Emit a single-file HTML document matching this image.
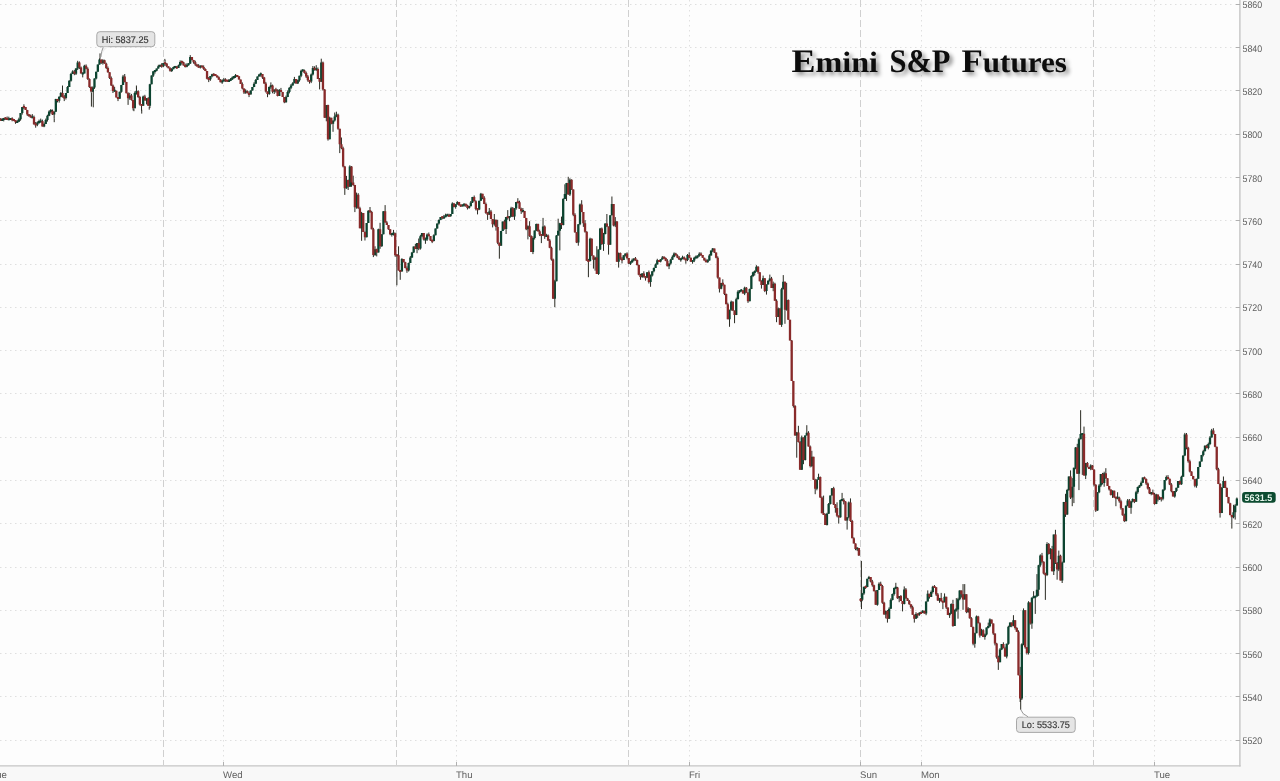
<!DOCTYPE html><html><head><meta charset="utf-8"><title>Emini S&amp;P Futures</title><style>html,body{margin:0;padding:0;background:#f8f8f8;overflow:hidden}svg{display:block}text{text-rendering:geometricPrecision}</style></head><body><svg width="1280" height="781" viewBox="0 0 1280 781" style="will-change:transform"><rect x="0" y="0" width="1280" height="781" fill="#f8f8f8"/><rect x="0" y="0" width="1239.5" height="765.5" fill="#fdfdfd"/><g stroke="#dfdfdf" stroke-width="1" stroke-dasharray="1.5 3.5" fill="none"><path d="M0 740.5H1239"/><path d="M0 696.5H1239"/><path d="M0 653.5H1239"/><path d="M0 610.5H1239"/><path d="M0 567.5H1239"/><path d="M0 523.5H1239"/><path d="M0 480.5H1239"/><path d="M0 437.5H1239"/><path d="M0 393.5H1239"/><path d="M0 350.5H1239"/><path d="M0 307.5H1239"/><path d="M0 264.5H1239"/><path d="M0 220.5H1239"/><path d="M0 177.5H1239"/><path d="M0 134.5H1239"/><path d="M0 90.5H1239"/><path d="M0 47.5H1239"/><path d="M0 4.5H1239"/></g><g stroke="#e0e0e0" stroke-width="1" stroke-dasharray="1.5 3.5" fill="none"><path d="M223.5 0V765"/><path d="M456.5 0V765"/><path d="M689.5 0V765"/><path d="M921.5 0V765"/><path d="M1154.5 0V765"/></g><g stroke="#d0d0d0" stroke-width="1" stroke-dasharray="7 3" fill="none"><path d="M163.5 0V765"/><path d="M396.5 0V765"/><path d="M628.5 0V765"/><path d="M860.5 0V765"/><path d="M1093.5 0V765"/></g><path d="M1239.9 0V766.6" stroke="#c6c6c6" stroke-width="1.4" fill="none"/><path d="M0 765.9H1240.6" stroke="#c6c6c6" stroke-width="1.4" fill="none"/><g stroke="#b0b0b0" fill="none"><path d="M1236 740.5H1240"/><path d="M1236 696.5H1240"/><path d="M1236 653.5H1240"/><path d="M1236 610.5H1240"/><path d="M1236 567.5H1240"/><path d="M1236 523.5H1240"/><path d="M1236 480.5H1240"/><path d="M1236 437.5H1240"/><path d="M1236 393.5H1240"/><path d="M1236 350.5H1240"/><path d="M1236 307.5H1240"/><path d="M1236 264.5H1240"/><path d="M1236 220.5H1240"/><path d="M1236 177.5H1240"/><path d="M1236 134.5H1240"/><path d="M1236 90.5H1240"/><path d="M1236 47.5H1240"/><path d="M1236 4.5H1240"/><path d="M223.5 762V766"/><path d="M456.5 762V766"/><path d="M689.5 762V766"/><path d="M860.5 762V766"/><path d="M921.5 762V766"/><path d="M1154.5 762V766"/></g><g font-family="Liberation Sans, sans-serif" font-size="9.6" fill="#606060"><text x="1242.5" y="744.2" textLength="19.7" lengthAdjust="spacingAndGlyphs">5520</text><text x="1242.5" y="701.2" textLength="19.7" lengthAdjust="spacingAndGlyphs">5540</text><text x="1242.5" y="658.2" textLength="19.7" lengthAdjust="spacingAndGlyphs">5560</text><text x="1242.5" y="614.2" textLength="19.7" lengthAdjust="spacingAndGlyphs">5580</text><text x="1242.5" y="571.2" textLength="19.7" lengthAdjust="spacingAndGlyphs">5600</text><text x="1242.5" y="528.2" textLength="19.7" lengthAdjust="spacingAndGlyphs">5620</text><text x="1242.5" y="484.2" textLength="19.7" lengthAdjust="spacingAndGlyphs">5640</text><text x="1242.5" y="441.2" textLength="19.7" lengthAdjust="spacingAndGlyphs">5660</text><text x="1242.5" y="398.2" textLength="19.7" lengthAdjust="spacingAndGlyphs">5680</text><text x="1242.5" y="355.2" textLength="19.7" lengthAdjust="spacingAndGlyphs">5700</text><text x="1242.5" y="311.2" textLength="19.7" lengthAdjust="spacingAndGlyphs">5720</text><text x="1242.5" y="268.2" textLength="19.7" lengthAdjust="spacingAndGlyphs">5740</text><text x="1242.5" y="225.2" textLength="19.7" lengthAdjust="spacingAndGlyphs">5760</text><text x="1242.5" y="182.2" textLength="19.7" lengthAdjust="spacingAndGlyphs">5780</text><text x="1242.5" y="138.2" textLength="19.7" lengthAdjust="spacingAndGlyphs">5800</text><text x="1242.5" y="95.2" textLength="19.7" lengthAdjust="spacingAndGlyphs">5820</text><text x="1242.5" y="52.2" textLength="19.7" lengthAdjust="spacingAndGlyphs">5840</text><text x="1242.5" y="8.2" textLength="19.7" lengthAdjust="spacingAndGlyphs">5860</text></g><g font-family="Liberation Sans, sans-serif" font-size="9.6" fill="#606060"><text x="-9.3" y="777.6">Tue</text><text x="223" y="777.6">Wed</text><text x="456" y="777.6">Thu</text><text x="689" y="777.6">Fri</text><text x="860" y="777.6">Sun</text><text x="921" y="777.6">Mon</text><text x="1154" y="777.6">Tue</text></g><g fill="none"><path stroke="#2a2a22" stroke-width="1" d="M0.40 118.2V120.7M2.08 118.0V121.0M3.76 117.9V121.4M5.44 117.3V119.8M7.12 116.5V120.0M8.80 116.7V120.2M10.48 118.0V120.0M12.16 117.3V121.3M13.84 119.1V121.1M15.52 120.3V123.8M17.20 120.0V123.0M18.88 117.7V121.8M20.56 113.1V120.7M22.24 107.1V114.6M23.92 104.3V109.1M25.60 107.1V109.9M27.28 109.9V115.9M28.96 114.2V116.7M30.64 114.6V117.6M32.32 114.1V118.2M34.00 115.6V124.8M35.68 122.0V127.7M37.36 121.4V126.2M39.04 119.6V123.8M40.72 118.6V122.4M42.40 119.6V126.5M44.08 122.5V127.2M45.76 118.6V124.0M47.44 114.7V121.6M49.12 110.4V116.2M50.80 109.0V113.5M52.48 109.5V115.0M54.16 111.3V118.3M55.84 98.8V111.8M57.52 98.9V102.4M59.20 96.3V102.6M60.88 91.9V97.3M62.56 90.7V97.6M64.24 95.1V101.1M65.92 93.0V99.5M67.60 86.0V93.0M69.28 80.2V87.0M70.96 72.9V81.7M72.64 70.3V73.9M74.32 69.9V75.2M76.00 68.0V75.0M77.68 60.8V70.0M79.36 61.4V69.0M81.04 66.5V73.5M82.72 72.4V77.4M84.40 64.8V73.4M86.08 64.4V69.3M87.76 67.3V79.9M89.44 78.4V87.9M91.12 86.4V92.5M92.80 86.4V92.1M94.48 78.4V88.9M96.16 71.7V79.4M97.84 64.6V71.7M99.52 58.4V64.6M101.20 59.6V64.0M102.88 59.2V64.6M104.56 59.7V63.7M106.24 62.7V69.0M107.92 66.5V72.7M109.60 72.2V79.0M111.28 76.5V86.0M112.96 84.5V93.0M114.64 86.8V91.8M116.32 90.7V97.4M118.00 97.0V101.1M119.68 91.7V98.7M121.36 84.9V92.7M123.04 74.9V84.9M124.72 74.0V82.4M126.40 81.9V93.3M128.08 92.3V104.9M129.76 92.8V99.8M131.44 93.9V100.6M133.12 100.1V110.4M134.80 91.4V108.3M136.48 87.6V94.6M138.16 90.3V97.9M139.84 95.9V105.5M141.52 104.1V110.7M143.20 95.6V105.7M144.88 94.8V100.5M146.56 98.2V104.4M148.24 97.2V105.7M149.92 83.8V108.1M151.60 75.4V84.3M153.28 71.3V76.9M154.96 70.1V73.6M156.64 68.6V71.3M158.32 64.8V68.6M160.00 64.8V66.8M161.68 63.2V67.7M163.36 63.0V67.2M165.04 60.0V65.8M166.72 63.1V67.3M168.40 66.3V68.3M170.08 67.2V71.7M171.76 68.0V72.0M173.44 66.5V69.2M175.12 65.9V68.0M176.80 65.9V68.9M178.48 64.6V67.9M180.16 60.4V65.6M181.84 60.5V64.5M183.52 61.7V65.5M185.20 63.6V67.5M186.88 63.3V67.3M188.56 63.2V65.7M190.24 55.1V64.0M191.92 57.1V60.4M193.60 59.9V63.7M195.28 60.7V65.9M196.96 63.9V66.5M198.64 64.2V67.7M200.32 65.5V68.5M202.00 65.4V67.4M203.68 65.4V69.9M205.36 68.4V71.1M207.04 71.1V79.3M208.72 77.0V82.1M210.40 76.0V80.8M212.08 73.8V77.3M213.76 73.2V76.2M215.44 74.1V76.1M217.12 75.4V77.4M218.80 76.3V79.7M220.48 79.2V82.3M222.16 79.4V83.9M223.84 77.9V81.4M225.52 78.3V81.8M227.20 79.8V81.8M228.88 79.0V82.0M230.56 78.1V81.1M232.24 76.5V80.0M233.92 76.0V79.0M235.60 74.0V78.0M237.28 75.0V77.0M238.96 76.2V79.6M240.64 79.6V83.9M242.32 82.4V89.4M244.00 88.4V94.0M245.68 89.3V93.8M247.36 90.4V93.3M249.04 91.4V97.1M250.72 90.5V94.4M252.40 87.1V90.5M254.08 82.2V87.1M255.76 79.0V83.7M257.44 76.5V80.0M259.12 73.9V76.5M260.80 72.5V76.7M262.48 74.1V78.9M264.16 76.9V83.9M265.84 81.9V92.5M267.52 91.5V97.2M269.20 86.4V94.9M270.88 82.4V88.8M272.56 84.6V93.3M274.24 89.5V94.0M275.92 87.8V92.7M277.60 89.3V96.4M279.28 89.0V95.9M280.96 87.9V91.9M282.64 91.9V97.0M284.32 97.0V103.2M286.00 95.6V102.7M287.68 90.4V97.1M289.36 87.2V93.4M291.04 84.0V89.2M292.72 82.2V85.5M294.40 76.9V83.2M296.08 79.1V83.6M297.76 79.7V83.9M299.44 75.7V81.7M301.12 69.7V77.2M302.80 69.1V71.6M304.48 69.6V73.6M306.16 71.6V78.0M307.84 75.0V81.7M309.52 79.9V83.6M311.20 73.5V83.1M312.88 66.0V75.5M314.56 66.3V70.6M316.24 65.2V70.8M317.92 67.5V79.0M319.60 78.0V89.4M321.28 58.7V81.8M322.96 61.6V90.6M324.64 89.1V117.8M326.32 105.0V121.3M328.00 104.7V140.6M329.68 116.7V139.3M331.36 117.8V124.3M333.04 120.6V131.8M334.72 112.5V121.6M336.40 111.7V117.2M338.08 113.7V129.8M339.76 128.8V153.1M341.44 137.5V149.2M343.12 146.7V167.4M344.80 165.9V194.9M346.48 175.9V188.8M348.16 179.6V190.0M349.84 165.3V186.8M351.52 166.1V186.8M353.20 175.7V185.9M354.88 184.9V212.1M356.56 192.6V208.7M358.24 193.2V208.8M359.92 206.8V228.3M361.60 211.9V240.8M363.28 213.0V231.9M364.96 231.4V240.5M366.64 223.0V237.3M368.32 210.2V223.0M370.00 207.0V212.8M371.68 210.9V229.3M373.36 227.8V257.1M375.04 246.3V255.9M376.72 248.7V256.4M378.40 228.7V252.5M380.08 222.8V248.8M381.76 234.3V246.8M383.44 211.2V234.3M385.12 205.1V222.6M386.80 221.1V225.0M388.48 225.0V229.8M390.16 229.3V235.2M391.84 233.0V236.6M393.52 229.9V235.5M395.20 232.7V256.8M396.88 254.3V285.3M398.56 246.3V270.5M400.24 269.9V279.8M401.92 258.2V271.4M403.60 259.0V262.3M405.28 261.8V268.4M406.96 266.4V272.8M408.64 262.6V271.5M410.32 256.0V263.1M412.00 251.9V258.0M413.68 246.5V252.9M415.36 243.9V249.1M417.04 243.0V253.2M418.72 238.5V250.2M420.40 234.8V249.6M422.08 233.1V237.3M423.76 233.0V240.5M425.44 237.5V243.8M427.12 233.4V240.9M428.80 232.5V236.2M430.48 236.0V240.9M432.16 239.7V243.1M433.84 234.3V241.4M435.52 228.6V235.3M437.20 223.6V228.6M438.88 219.4V224.6M440.56 217.1V219.9M442.24 216.3V219.3M443.92 214.9V218.9M445.60 213.7V217.3M447.28 213.7V216.2M448.96 213.7V216.7M450.64 214.0V216.7M452.32 202.3V214.0M454.00 202.9V207.4M455.68 204.0V208.7M457.36 201.2V204.5M459.04 201.9V205.7M460.72 204.5V207.0M462.40 204.4V206.4M464.08 203.2V206.7M465.76 203.8V206.8M467.44 204.7V209.5M469.12 206.1V208.8M470.80 201.0V206.3M472.48 196.9V203.0M474.16 195.5V201.2M475.84 200.2V210.4M477.52 208.3V214.4M479.20 200.8V210.1M480.88 192.9V200.8M482.56 193.8V199.2M484.24 196.2V204.1M485.92 202.6V213.9M487.60 212.2V219.9M489.28 208.0V215.0M490.96 209.9V219.1M492.64 219.1V227.4M494.32 214.0V225.7M496.00 219.7V230.6M497.68 219.8V244.2M499.36 242.7V258.7M501.04 230.9V245.7M502.72 221.6V230.9M504.40 219.7V229.6M506.08 217.0V234.0M507.76 210.1V219.7M509.44 216.1V221.2M511.12 206.8V216.7M512.80 207.0V217.1M514.48 208.2V219.9M516.16 202.1V209.7M517.84 198.2V203.2M519.52 200.7V208.7M521.20 207.7V213.9M522.88 208.0V212.5M524.56 210.9V217.9M526.24 217.9V230.2M527.92 225.3V239.4M529.60 221.2V236.9M531.28 235.4V252.0M532.96 236.5V254.1M534.64 230.6V239.5M536.32 223.6V231.1M538.00 223.6V231.7M539.68 229.7V236.1M541.36 234.1V243.1M543.04 217.9V235.7M544.72 225.4V238.9M546.40 233.8V236.9M548.08 234.4V241.0M549.76 239.0V248.2M551.44 246.7V260.6M553.12 258.6V298.7M554.80 279.8V307.2M556.48 235.1V281.3M558.16 218.7V235.6M559.84 222.8V250.4M561.52 216.6V229.0M563.20 198.1V225.4M564.88 184.3V199.1M566.56 182.9V200.9M568.24 176.8V194.7M569.92 178.3V196.0M571.60 179.3V189.9M573.28 189.4V216.2M574.96 213.2V232.8M576.64 232.3V243.1M578.32 224.2V245.7M580.00 203.5V225.2M581.68 200.2V212.1M583.36 212.1V226.9M585.04 220.2V232.7M586.72 231.2V260.7M588.40 258.9V277.2M590.08 237.7V261.5M591.76 238.4V256.1M593.44 255.6V268.6M595.12 256.7V270.7M596.80 246.2V274.0M598.48 249.5V274.9M600.16 227.9V250.0M601.84 227.5V245.0M603.52 232.9V250.9M605.20 223.4V234.4M606.88 214.0V227.1M608.56 226.6V254.6M610.24 215.3V244.7M611.92 196.5V215.3M613.60 204.0V226.4M615.28 217.1V227.1M616.96 221.0V261.7M618.64 252.5V267.6M620.32 252.5V259.9M622.00 256.9V263.4M623.68 255.3V259.9M625.36 253.5V256.5M627.04 252.3V259.4M628.72 257.9V264.0M630.40 261.1V265.0M632.08 258.7V262.6M633.76 258.4V261.4M635.44 257.0V260.8M637.12 259.6V265.5M638.80 264.5V275.3M640.48 273.8V279.8M642.16 273.1V277.9M643.84 271.3V277.7M645.52 276.2V280.6M647.20 272.2V277.7M648.88 270.5V283.5M650.56 274.5V286.8M652.24 271.3V276.5M653.92 267.5V272.3M655.60 263.5V268.0M657.28 258.8V264.5M658.96 260.0V262.0M660.64 259.3V262.4M662.32 256.0V259.5M664.00 256.3V258.8M665.68 257.4V261.2M667.36 259.2V266.3M669.04 263.6V269.1M670.72 258.8V264.6M672.40 255.3V259.8M674.08 252.4V257.3M675.76 252.8V255.4M677.44 254.4V258.2M679.12 256.0V260.0M680.80 258.2V261.7M682.48 255.7V259.2M684.16 256.4V259.7M685.84 258.5V263.7M687.52 254.0V261.1M689.20 252.3V258.2M690.88 257.7V261.7M692.56 260.1V263.7M694.24 256.8V262.1M695.92 255.5V258.5M697.60 255.4V258.4M699.28 252.3V256.8M700.96 252.3V255.5M702.64 255.0V257.8M704.32 257.8V260.6M706.00 258.8V262.3M707.68 259.3V262.7M709.36 254.1V260.6M711.04 250.6V255.6M712.72 248.0V252.1M714.40 248.6V253.0M716.08 252.5V258.3M717.76 256.3V278.6M719.44 277.6V292.5M721.12 282.9V289.3M722.80 279.3V286.3M724.48 284.7V295.1M726.16 293.6V304.2M727.84 302.7V319.2M729.52 309.8V326.8M731.20 300.6V310.8M732.88 301.3V311.1M734.56 310.6V323.2M736.24 297.7V315.1M737.92 290.3V299.2M739.60 290.3V293.3M741.28 289.0V291.5M742.96 290.2V293.5M744.64 286.7V295.1M746.32 287.0V292.9M748.00 292.4V302.9M749.68 288.6V301.2M751.36 275.1V289.1M753.04 271.7V277.1M754.72 270.4V275.5M756.40 265.2V271.5M758.08 266.2V273.8M759.76 272.3V281.3M761.44 280.3V288.6M763.12 275.6V284.9M764.80 278.2V292.1M766.48 284.4V294.6M768.16 280.2V284.4M769.84 274.6V281.7M771.52 276.9V287.9M773.20 281.6V291.2M774.88 282.7V300.8M776.56 299.3V322.2M778.24 307.5V316.9M779.92 308.1V324.7M781.60 287.8V326.9M783.28 275.1V289.3M784.96 281.7V323.8M786.64 282.9V310.7M788.32 299.5V319.8M790.00 319.8V340.5M791.68 340.0V380.9M793.36 380.9V407.6M795.04 405.1V435.6M796.72 431.9V457.7M798.40 425.8V442.5M800.08 441.0V469.7M801.76 435.6V470.0M803.44 437.4V464.2M805.12 435.4V460.5M806.80 425.2V435.4M808.48 431.2V446.5M810.16 445.5V467.4M811.84 450.8V467.1M813.52 456.8V479.8M815.20 478.8V494.2M816.88 479.2V490.3M818.56 473.7V479.7M820.24 476.5V497.9M821.92 496.4V513.3M823.60 495.6V515.0M825.28 513.7V525.0M826.96 512.8V525.5M828.64 503.0V513.8M830.32 495.5V504.5M832.00 488.0V495.5M833.68 486.8V505.0M835.36 504.0V512.7M837.04 502.3V517.2M838.72 515.4V523.6M840.40 499.6V517.7M842.08 492.9V501.0M843.76 498.2V504.4M845.44 501.2V520.5M847.12 517.3V529.6M848.80 501.5V518.3M850.48 498.4V521.9M852.16 519.9V538.2M853.84 537.2V543.4M855.52 543.4V550.2M857.20 547.3V551.1M858.88 548.1V556.0M860.56 598.2V601.7M862.24 592.9V601.2M863.92 586.8V594.9M865.60 585.6V588.9M867.28 578.8V587.2M868.96 575.9V578.9M870.64 577.0V582.4M872.32 579.9V586.7M874.00 584.7V591.3M875.68 590.3V604.8M877.36 590.0V605.7M879.04 582.3V590.0M880.72 581.7V585.9M882.40 584.9V603.8M884.08 601.8V614.6M885.76 610.6V618.4M887.44 610.0V622.6M889.12 607.3V618.8M890.80 598.4V608.8M892.48 593.6V600.4M894.16 587.5V595.6M895.84 582.8V589.2M897.52 586.9V598.8M899.20 596.1V602.2M900.88 595.0V601.0M902.56 601.0V611.4M904.24 586.4V604.4M905.92 588.0V598.4M907.60 597.9V601.0M909.28 600.0V604.8M910.96 604.3V608.7M912.64 605.7V614.7M914.32 614.7V622.6M916.00 612.2V618.7M917.68 613.4V617.9M919.36 612.2V615.8M921.04 611.4V613.9M922.72 610.1V613.0M924.40 610.8V613.6M926.08 601.5V615.2M927.76 590.4V601.5M929.44 593.8V598.6M931.12 590.5V596.9M932.80 585.8V593.5M934.48 585.1V588.0M936.16 587.2V596.0M937.84 593.0V600.9M939.52 597.9V602.8M941.20 592.9V601.8M942.88 600.7V609.1M944.56 593.4V602.6M946.24 596.8V609.0M947.92 607.5V615.0M949.60 612.8V617.9M951.28 603.4V613.7M952.96 599.8V626.8M954.64 609.7V625.9M956.32 598.1V611.6M958.00 597.8V618.7M959.68 590.3V600.3M961.36 590.5V597.6M963.04 584.1V609.8M964.72 584.1V599.5M966.40 594.3V613.2M968.08 607.0V613.0M969.76 608.0V618.7M971.44 617.2V627.1M973.12 626.6V645.3M974.80 632.7V647.7M976.48 615.5V633.2M978.16 615.8V623.3M979.84 622.3V637.6M981.52 628.8V635.5M983.20 629.2V637.1M984.88 633.5V639.7M986.56 627.5V635.5M988.24 622.6V628.4M989.92 618.4V627.2M991.60 619.6V623.5M993.28 623.5V634.9M994.96 633.4V645.4M996.64 642.8V658.7M998.32 655.7V669.9M1000.00 648.1V662.2M1001.68 644.0V650.1M1003.36 642.3V648.2M1005.04 646.7V656.6M1006.72 643.7V658.4M1008.40 625.7V644.7M1010.08 622.5V627.2M1011.76 622.5V627.2M1013.44 615.2V626.3M1015.12 620.2V629.6M1016.80 627.1V631.8M1018.48 630.3V675.3M1020.16 666.9V702.0M1021.84 643.3V700.0M1023.52 608.4V645.3M1025.20 610.3V648.7M1026.88 647.2V654.5M1028.56 601.2V654.5M1030.24 602.6V624.6M1031.92 597.3V628.8M1033.60 591.2V598.2M1035.28 595.7V613.9M1036.96 574.1V596.6M1038.64 564.8V595.9M1040.32 554.4V566.8M1042.00 552.9V563.3M1043.68 561.3V574.4M1045.36 572.7V599.9M1047.04 542.2V576.1M1048.72 543.0V554.5M1050.40 548.1V559.3M1052.08 545.9V571.3M1053.76 534.6V575.0M1055.44 529.8V564.0M1057.12 562.0V579.7M1058.80 550.6V571.1M1060.48 554.7V580.5M1062.16 561.5V583.0M1063.84 501.9V562.5M1065.52 493.8V516.9M1067.20 488.9V514.9M1068.88 476.4V490.9M1070.56 470.4V499.0M1072.24 478.1V506.2M1073.92 467.7V503.1M1075.60 447.0V469.2M1077.28 443.8V473.8M1078.96 437.8V490.1M1080.64 410.2V439.3M1082.32 433.0V474.9M1084.00 426.6V475.5M1085.68 462.9V479.1M1087.36 462.0V467.2M1089.04 466.9V468.9M1090.72 464.3V470.2M1092.40 465.0V469.7M1094.08 469.2V486.2M1095.76 484.2V511.9M1097.44 492.2V510.9M1099.12 484.1V493.2M1100.80 474.0V487.1M1102.48 472.9V484.5M1104.16 471.7V486.7M1105.84 468.2V478.8M1107.52 478.3V485.9M1109.20 485.9V490.6M1110.88 489.6V495.5M1112.56 490.3V497.9M1114.24 490.6V497.9M1115.92 496.7V506.2M1117.60 492.2V499.3M1119.28 496.7V502.7M1120.96 499.7V509.7M1122.64 508.2V515.7M1124.32 513.7V522.1M1126.00 505.3V521.6M1127.68 499.0V506.3M1129.36 499.0V507.8M1131.04 500.9V513.8M1132.72 498.4V502.4M1134.40 499.1V503.1M1136.08 490.8V501.7M1137.76 486.6V493.8M1139.44 484.9V487.9M1141.12 481.3V486.2M1142.80 477.5V482.8M1144.48 476.6V479.2M1146.16 478.4V485.0M1147.84 482.5V489.5M1149.52 487.0V494.1M1151.20 492.1V495.3M1152.88 489.6V494.4M1154.56 492.8V504.7M1156.24 493.8V504.1M1157.92 494.6V501.5M1159.60 496.4V500.0M1161.28 497.2V501.5M1162.96 489.2V500.3M1164.64 480.1V490.7M1166.32 475.5V480.6M1168.00 475.1V478.9M1169.68 478.7V485.1M1171.36 483.1V492.3M1173.04 491.3V496.4M1174.72 491.1V497.7M1176.40 487.8V492.1M1178.08 481.1V487.8M1179.76 480.5V484.8M1181.44 475.7V484.9M1183.12 455.6V476.7M1184.80 432.9V456.1M1186.48 433.0V449.3M1188.16 446.8V462.7M1189.84 459.7V472.4M1191.52 471.4V475.9M1193.20 475.9V479.3M1194.88 479.3V487.3M1196.56 478.7V487.7M1198.24 467.1V478.7M1199.92 461.5V467.1M1201.60 454.9V461.5M1203.28 449.8V456.4M1204.96 445.3V451.3M1206.64 444.7V448.4M1208.32 442.6V449.4M1210.00 436.0V445.1M1211.68 428.9V437.5M1213.36 428.2V434.5M1215.04 434.0V447.2M1216.72 446.7V470.3M1218.40 467.8V484.1M1220.08 483.1V517.6M1221.76 487.0V513.1M1223.44 476.5V488.0M1225.12 480.9V487.9M1226.80 487.4V496.9M1228.48 496.9V503.3M1230.16 502.8V515.4M1231.84 514.9V528.6M1233.52 504.8V518.3M1235.20 504.1V519.6M1236.88 497.5V505.6M54.22 118.3V122.2M91.41 92.5V106.6M93.28 89.4V107.3M133.91 108.9V111.2M141.72 109.7V113.6M149.22 106.6V109.7M62.50 91.7V85.5M100.00 58.9V53.4M136.41 88.6V85.5M164.84 60.5V58.9M861.41 599.7V560.9M861.48 599.7V609.1M1020.70 687.9V709.8"/><path stroke="#0c4430" stroke-width="2.3" d="M2.08 119.0V121.0M3.76 117.9V119.9M8.80 118.2V120.2M10.48 118.0V120.0M17.20 121.0V123.0M18.88 119.2V121.8M20.56 113.1V119.2M22.24 107.1V113.1M32.32 116.2V118.2M37.36 122.5V124.7M39.04 121.1V123.1M40.72 120.4V122.4M44.08 124.0V126.5M45.76 120.1V124.0M47.44 115.7V120.1M49.12 111.4V115.7M50.80 110.0V112.0M54.16 111.8V114.5M55.84 98.9V111.8M59.20 96.8V100.8M60.88 92.9V96.8M65.92 93.0V98.0M67.60 87.0V93.0M69.28 80.7V87.0M70.96 73.9V80.7M72.64 71.4V73.9M76.00 68.5V73.7M77.68 62.4V68.5M82.72 72.4V74.4M84.40 65.8V73.4M92.80 87.4V91.6M94.48 78.4V87.4M96.16 71.7V78.4M97.84 64.6V71.7M99.52 59.6V64.6M102.88 60.2V63.0M114.64 89.8V91.8M119.68 91.7V98.7M121.36 84.9V91.7M123.04 76.4V84.9M129.76 95.4V98.3M134.80 92.9V108.3M136.48 91.1V93.1M143.20 96.6V105.7M146.56 98.2V100.5M149.92 84.3V105.7M151.60 75.4V84.3M153.28 71.3V75.4M154.96 70.1V72.1M156.64 68.6V70.8M158.32 66.3V68.6M160.00 64.8V66.8M163.36 63.0V66.2M171.76 69.0V71.0M173.44 67.0V69.2M175.12 66.0V68.0M178.48 65.6V67.9M180.16 61.9V65.6M186.88 64.8V66.8M188.56 63.2V65.2M190.24 57.1V63.5M200.32 65.5V67.5M210.40 76.0V79.3M212.08 74.3V76.3M222.16 80.4V82.4M223.84 79.4V81.4M228.88 80.0V82.0M230.56 79.1V81.1M232.24 77.5V79.5M233.92 76.0V78.0M235.60 75.0V77.0M245.68 90.8V92.8M250.72 90.5V94.4M252.40 87.1V90.5M254.08 83.7V87.1M255.76 80.0V83.7M257.44 76.5V80.0M259.12 74.4V76.5M260.80 73.2V75.2M269.20 86.9V93.9M270.88 85.3V87.3M274.24 89.5V91.8M279.28 90.0V95.9M286.00 97.1V102.2M287.68 91.9V97.1M289.36 87.7V91.9M291.04 85.5V87.7M292.72 83.2V85.5M294.40 79.1V83.2M297.76 80.2V83.6M299.44 75.7V80.2M301.12 70.7V75.7M302.80 69.6V71.6M311.20 74.5V81.6M312.88 68.1V74.5M316.24 68.3V70.3M321.28 62.6V81.8M326.32 105.0V117.8M329.68 117.8V139.3M333.04 120.6V123.8M334.72 116.5V120.6M336.40 114.6V116.6M346.48 180.1V188.3M349.84 166.6V186.8M356.56 194.7V207.2M361.60 213.0V228.3M366.64 223.0V237.3M368.32 210.7V223.0M375.04 249.2V254.9M378.40 229.2V252.5M381.76 234.3V246.3M383.44 211.2V234.3M391.84 233.0V235.0M393.52 232.5V234.5M401.92 259.0V271.4M408.64 263.1V270.5M410.32 257.5V263.1M412.00 252.4V257.5M413.68 246.5V252.4M417.04 243.0V249.1M420.40 236.3V248.6M422.08 233.1V236.3M425.44 238.5V240.5M427.12 234.4V239.4M433.84 235.3V240.9M435.52 228.6V235.3M437.20 223.6V228.6M438.88 219.9V223.6M440.56 217.1V219.9M443.92 216.4V218.4M445.60 215.2V217.3M447.28 214.2V216.2M450.64 214.0V216.2M452.32 203.4V214.0M455.68 204.5V206.9M457.36 201.9V204.5M462.40 204.4V206.4M464.08 203.7V205.7M469.12 206.1V208.1M470.80 202.5V206.3M472.48 196.9V202.5M479.20 200.8V209.6M480.88 193.8V200.8M489.28 211.4V214.5M494.32 219.7V224.2M501.04 230.9V245.7M502.72 221.6V230.9M506.08 217.0V229.1M509.44 216.1V218.1M511.12 208.3V216.7M514.48 208.2V216.6M516.16 202.1V208.2M522.88 210.0V212.0M527.92 226.3V229.2M532.96 238.0V252.0M534.64 230.6V238.0M536.32 224.1V230.6M543.04 226.4V235.7M546.40 234.9V236.9M554.80 281.3V298.7M556.48 235.6V281.3M558.16 230.7V235.6M559.84 223.3V230.7M563.20 199.1V224.9M564.88 194.1V199.1M566.56 182.9V194.1M569.92 179.8V194.5M578.32 224.2V242.6M580.00 204.5V224.2M590.08 238.7V261.0M595.12 257.5V259.7M598.48 249.5V274.0M600.16 228.4V249.5M603.52 233.9V244.0M605.20 223.4V233.9M610.24 215.3V244.7M611.92 204.0V215.3M615.28 221.5V225.6M618.64 253.0V261.7M623.68 255.3V259.9M625.36 253.5V255.5M630.40 262.1V264.1M632.08 260.2V262.6M633.76 258.4V260.4M642.16 273.6V276.9M647.20 272.2V277.7M650.56 275.5V282.0M652.24 271.3V275.5M653.92 268.0V271.3M655.60 264.5V268.0M657.28 260.3V264.5M660.64 259.3V261.6M662.32 257.5V259.5M669.04 263.6V266.3M670.72 259.8V263.6M672.40 256.8V259.8M674.08 253.4V256.8M680.80 258.2V260.2M682.48 257.2V259.2M687.52 255.0V260.1M692.56 260.1V262.1M694.24 257.8V260.6M695.92 256.5V258.5M697.60 255.4V257.4M699.28 253.8V255.8M707.68 260.3V262.3M709.36 255.6V260.6M711.04 250.6V255.6M712.72 248.6V250.6M721.12 282.9V288.8M729.52 309.8V319.2M731.20 301.8V309.8M736.24 299.2V315.1M737.92 291.8V299.2M739.60 290.3V292.3M741.28 289.5V291.5M744.64 287.7V293.5M749.68 289.1V301.2M751.36 276.1V289.1M753.04 272.2V276.1M754.72 270.9V272.9M756.40 266.7V271.5M763.12 278.2V284.9M766.48 284.4V291.1M768.16 280.7V284.4M769.84 278.4V280.7M773.20 283.7V287.9M778.24 308.5V316.9M781.60 289.3V324.7M783.28 281.7V289.3M786.64 300.0V309.7M796.72 432.4V435.6M801.76 437.4V469.7M805.12 435.4V460.0M806.80 432.7V435.4M811.84 456.8V466.1M816.88 479.7V488.8M818.56 477.0V479.7M826.96 513.8V525.0M828.64 504.0V513.8M830.32 495.5V504.0M832.00 488.3V495.5M840.40 500.1V517.2M842.08 499.0V501.0M847.12 517.3V520.5M848.80 502.5V517.3M857.20 547.6V549.6M862.24 593.4V599.7M863.92 586.8V593.4M867.28 578.8V586.9M868.96 576.9V578.9M877.36 590.0V604.8M879.04 583.8V590.0M885.76 611.0V614.6M889.12 608.8V618.8M890.80 599.9V608.8M892.48 594.1V599.9M894.16 588.0V594.1M895.84 586.7V588.7M899.20 596.1V598.3M904.24 589.5V603.9M916.00 614.0V618.7M919.36 612.8V614.8M922.72 610.8V613.0M926.08 601.5V613.6M927.76 593.8V601.5M931.12 592.0V596.9M932.80 586.8V592.0M939.52 597.9V600.4M944.56 596.8V602.1M949.60 613.3V615.3M951.28 603.9V613.7M954.64 609.7V625.9M956.32 608.6V610.6M958.00 599.3V609.5M959.68 590.5V599.3M964.72 594.3V599.5M968.08 608.5V612.0M974.80 633.2V643.8M976.48 616.5V633.2M981.52 630.2V635.5M984.88 634.5V637.1M986.56 627.5V634.5M988.24 625.9V627.9M989.92 619.6V626.3M1000.00 649.6V662.2M1001.68 644.0V649.6M1006.72 643.7V656.6M1008.40 626.7V643.7M1010.08 622.5V626.7M1013.44 620.2V625.8M1021.84 644.3V698.5M1023.52 610.3V644.3M1028.56 602.6V653.0M1031.92 597.8V623.6M1033.60 596.2V598.2M1035.28 595.7V597.7M1036.96 589.7V596.6M1038.64 565.3V589.7M1040.32 555.4V565.3M1047.04 544.0V575.1M1050.40 549.1V554.0M1053.76 534.6V571.3M1058.80 555.7V569.6M1062.16 562.5V580.5M1063.84 501.9V562.5M1067.20 489.9V514.4M1068.88 476.4V489.9M1072.24 486.7V497.5M1073.92 467.7V486.7M1075.60 447.5V467.7M1078.96 439.3V473.8M1080.64 434.1V439.3M1082.32 433.0V435.0M1085.68 462.9V475.5M1090.72 465.5V468.6M1097.44 492.2V510.4M1099.12 485.6V492.2M1100.80 474.0V485.6M1104.16 473.2V483.0M1112.56 490.8V495.0M1117.60 496.8V498.8M1126.00 505.8V521.1M1127.68 500.5V505.8M1131.04 501.4V507.8M1132.72 499.1V501.4M1136.08 492.3V501.7M1137.76 487.1V492.3M1139.44 485.4V487.4M1141.12 482.8V485.7M1142.80 477.5V482.8M1151.20 492.1V494.1M1156.24 494.6V504.1M1159.60 497.5V499.5M1162.96 489.7V498.8M1164.64 480.1V489.7M1166.32 477.0V480.1M1174.72 491.1V496.4M1176.40 487.8V491.1M1178.08 481.1V487.8M1181.44 476.7V484.3M1183.12 455.6V476.7M1184.80 434.5V455.6M1196.56 478.7V485.8M1198.24 467.1V478.7M1199.92 461.5V467.1M1201.60 454.9V461.5M1203.28 451.3V454.9M1204.96 445.7V451.3M1208.32 444.1V447.9M1210.00 437.5V444.1M1211.68 430.4V437.5M1221.76 488.0V513.1M1223.44 480.9V488.0M1233.52 512.2V517.3M1235.20 505.6V512.2M1236.88 498.5V505.6"/><path stroke="#892a2a" stroke-width="2.3" d="M0.40 118.7V120.7M5.44 117.3V119.3M7.12 118.0V120.0M12.16 118.3V120.3M13.84 119.1V121.1M15.52 120.3V122.3M23.92 106.1V108.1M25.60 107.1V109.9M27.28 109.9V114.4M28.96 114.2V116.2M30.64 115.6V117.6M34.00 117.1V124.3M35.68 123.5V125.5M42.40 121.1V126.5M52.48 110.7V114.5M57.52 98.9V100.9M62.56 92.9V97.1M64.24 96.6V98.6M74.32 71.4V73.7M79.36 62.4V67.5M81.04 67.5V73.5M86.08 65.8V68.8M87.76 68.8V78.9M89.44 78.9V86.9M91.12 86.9V91.6M101.20 59.6V63.0M104.56 60.2V63.7M106.24 63.7V68.0M107.92 68.0V72.2M109.60 72.2V78.0M111.28 78.0V85.5M112.96 85.5V90.9M116.32 90.7V97.4M118.00 97.0V99.0M124.72 76.4V81.9M126.40 81.9V93.3M128.08 93.3V98.3M131.44 95.4V100.1M133.12 100.1V108.3M138.16 91.3V96.9M139.84 96.9V104.5M141.52 104.1V106.1M144.88 96.6V100.5M148.24 98.2V105.7M161.68 64.7V66.7M165.04 62.3V64.3M166.72 63.6V66.3M168.40 66.3V68.3M170.08 68.2V70.7M176.80 66.4V68.4M181.84 61.0V63.0M183.52 62.2V65.5M185.20 65.1V67.1M191.92 57.1V59.9M193.60 59.9V62.2M195.28 62.2V64.4M196.96 64.4V66.5M198.64 65.7V67.7M202.00 65.4V67.4M203.68 66.9V68.9M205.36 68.9V71.1M207.04 71.1V78.8M208.72 78.0V80.0M213.76 73.7V75.7M215.44 74.1V76.1M217.12 75.4V77.4M218.80 77.3V79.7M220.48 79.7V82.3M225.52 79.3V81.3M227.20 79.8V81.8M237.28 75.0V77.0M238.96 76.2V79.6M240.64 79.6V83.9M242.32 83.9V88.4M244.00 88.4V92.4M247.36 91.3V93.3M249.04 92.9V94.9M262.48 74.1V77.4M264.16 77.4V83.4M265.84 83.4V91.5M267.52 91.5V93.9M272.56 85.6V91.8M275.92 89.2V91.2M277.60 90.8V95.9M280.96 89.9V91.9M282.64 91.9V97.0M284.32 97.0V102.2M296.08 79.1V83.6M304.48 70.6V73.1M306.16 73.1V76.5M307.84 76.5V80.2M309.52 79.9V81.9M314.56 67.8V69.8M317.92 69.0V79.0M319.60 79.0V81.8M322.96 62.6V89.6M324.64 89.6V117.8M328.00 105.0V139.3M331.36 117.8V123.8M338.08 114.7V128.8M339.76 128.8V144.2M341.44 144.2V148.2M343.12 148.2V166.4M344.80 166.4V188.3M348.16 180.1V186.8M351.52 166.6V182.6M353.20 182.6V184.9M354.88 184.9V207.2M358.24 194.7V208.3M359.92 208.3V228.3M363.28 213.0V231.9M364.96 231.9V237.3M370.00 210.3V212.3M371.68 211.9V229.3M373.36 229.3V254.9M376.72 249.2V252.5M380.08 229.2V246.3M385.12 211.2V222.6M386.80 222.6V225.0M388.48 225.0V229.3M390.16 229.3V234.2M395.20 233.2V255.3M396.88 254.3V256.3M398.56 255.3V270.5M400.24 269.9V271.9M403.60 259.0V262.3M405.28 262.3V267.9M406.96 267.9V270.5M415.36 246.5V249.1M418.72 243.0V248.6M423.76 233.1V239.5M428.80 234.2V236.2M430.48 236.0V240.4M432.16 239.7V241.7M442.24 216.3V218.3M448.96 214.7V216.7M454.00 203.4V206.9M459.04 201.9V205.2M460.72 204.5V206.5M465.76 203.8V205.8M467.44 205.2V208.0M474.16 196.9V201.2M475.84 201.2V208.9M477.52 208.3V210.3M482.56 193.8V197.7M484.24 197.7V204.1M485.92 204.1V212.9M487.60 212.7V214.7M490.96 211.4V219.1M492.64 219.1V224.2M496.00 219.7V226.9M497.68 226.9V242.7M499.36 242.7V245.7M504.40 221.6V229.1M507.76 216.2V218.2M512.80 208.3V216.6M517.84 201.2V203.2M519.52 202.2V208.7M521.20 208.7V211.2M524.56 210.9V217.9M526.24 217.9V229.2M529.60 226.3V235.9M531.28 235.9V252.0M538.00 224.1V231.2M539.68 231.2V234.6M541.36 234.1V236.1M544.72 226.4V236.3M548.08 235.4V240.5M549.76 240.5V247.7M551.44 247.7V259.6M553.12 259.6V298.7M561.52 223.1V225.1M568.24 182.9V194.5M571.60 179.8V189.4M573.28 189.4V214.7M574.96 214.7V232.3M576.64 232.3V242.6M581.68 204.5V212.1M583.36 212.1V223.3M585.04 223.3V231.7M586.72 231.7V260.7M588.40 259.9V261.9M591.76 238.7V255.6M593.44 255.6V259.7M596.80 257.5V274.0M601.84 228.4V244.0M606.88 223.4V226.6M608.56 226.6V244.7M613.60 204.0V225.6M616.96 221.5V261.7M620.32 253.0V258.9M622.00 258.4V260.4M627.04 253.6V257.9M628.72 257.9V263.5M635.44 258.3V260.3M637.12 260.1V265.0M638.80 265.0V274.8M640.48 274.8V276.9M643.84 273.6V276.7M645.52 276.2V278.2M648.88 272.2V282.0M658.96 260.0V262.0M664.00 256.8V258.8M665.68 257.9V260.7M667.36 260.7V266.3M675.76 253.4V255.4M677.44 255.4V257.7M679.12 257.5V259.5M684.16 257.2V259.2M685.84 258.5V260.5M689.20 255.0V257.7M690.88 257.7V261.7M700.96 253.5V255.5M702.64 255.0V257.8M704.32 257.8V260.6M706.00 260.3V262.3M714.40 248.6V252.5M716.08 252.5V257.8M717.76 257.8V277.6M719.44 277.6V288.8M722.80 282.8V284.8M724.48 284.7V294.1M726.16 294.1V304.2M727.84 304.2V319.2M732.88 301.8V310.6M734.56 310.6V315.1M742.96 290.2V293.5M746.32 287.7V292.4M748.00 292.4V301.2M758.08 266.7V272.3M759.76 272.3V281.3M761.44 281.3V284.9M764.80 278.2V291.1M771.52 278.4V287.9M774.88 283.7V300.8M776.56 300.8V316.9M779.92 308.5V324.7M784.96 281.7V309.7M788.32 300.0V319.8M790.00 319.8V340.5M791.68 340.5V380.9M793.36 380.9V406.1M795.04 406.1V435.6M798.40 432.4V442.0M800.08 442.0V469.7M803.44 437.4V460.0M808.48 432.7V446.5M810.16 446.5V466.1M813.52 456.8V479.8M815.20 479.8V488.8M820.24 477.0V497.4M821.92 497.4V513.3M823.60 513.0V515.0M825.28 514.7V525.0M833.68 488.3V504.5M835.36 504.5V507.9M837.04 507.9V515.7M838.72 515.4V517.4M843.76 499.7V501.7M845.44 501.5V520.5M850.48 502.5V520.9M852.16 520.9V538.2M853.84 538.2V543.4M855.52 543.4V549.0M858.88 548.1V555.5M860.56 598.7V600.7M865.60 585.9V587.9M870.64 577.1V581.4M872.32 581.4V585.2M874.00 585.2V591.3M875.68 591.3V604.8M880.72 583.8V585.9M882.40 585.9V602.8M884.08 602.8V614.6M887.44 611.0V618.8M897.52 587.4V598.3M900.88 596.1V601.0M902.56 601.0V603.9M905.92 589.5V598.4M907.60 598.4V601.0M909.28 601.0V604.3M910.96 604.3V607.2M912.64 607.2V614.7M914.32 614.7V618.7M917.68 613.4V615.4M921.04 611.9V613.9M924.40 610.8V613.6M929.44 593.8V596.9M934.48 586.0V588.0M936.16 587.2V594.5M937.84 594.5V600.4M941.20 597.9V601.3M942.88 600.7V602.7M946.24 596.8V607.5M947.92 607.5V615.0M952.96 603.9V625.9M961.36 590.5V594.2M963.04 594.2V599.5M966.40 594.3V612.0M969.76 608.5V618.2M971.44 618.2V627.1M973.12 627.1V643.8M978.16 616.5V623.3M979.84 623.3V635.5M983.20 630.2V637.1M991.60 619.6V623.5M993.28 623.5V633.4M994.96 633.4V643.6M996.64 643.6V657.2M998.32 657.2V662.2M1003.36 644.0V648.2M1005.04 648.2V656.6M1011.76 622.5V625.8M1015.12 620.2V628.1M1016.80 628.1V631.8M1018.48 631.8V675.3M1020.16 675.3V698.5M1025.20 610.3V647.2M1026.88 647.2V653.0M1030.24 602.6V623.6M1042.00 555.4V561.8M1043.68 561.8V573.4M1045.36 573.2V575.2M1048.72 544.0V554.0M1052.08 549.1V571.3M1055.44 534.6V563.0M1057.12 563.0V569.6M1060.48 555.7V580.5M1065.52 501.9V514.4M1070.56 476.4V497.5M1077.28 447.5V473.8M1084.00 433.8V475.5M1087.36 462.9V467.2M1089.04 466.9V468.9M1092.40 465.5V469.7M1094.08 469.7V484.7M1095.76 484.7V510.4M1102.48 474.0V483.0M1105.84 473.2V478.3M1107.52 478.3V485.9M1109.20 485.9V489.6M1110.88 489.6V495.0M1114.24 490.8V497.4M1115.92 496.7V498.7M1119.28 497.7V501.2M1120.96 501.2V508.2M1122.64 508.2V515.2M1124.32 515.2V521.1M1129.36 500.5V507.8M1134.40 499.1V501.7M1144.48 477.2V479.2M1146.16 478.9V483.5M1147.84 483.5V488.5M1149.52 488.5V493.6M1152.88 492.4V494.4M1154.56 494.3V504.1M1157.92 494.6V499.4M1161.28 497.2V499.2M1168.00 476.9V478.9M1169.68 478.7V484.6M1171.36 484.6V491.3M1173.04 491.3V496.4M1179.76 481.1V484.3M1186.48 434.5V447.8M1188.16 447.8V461.2M1189.84 461.2V471.4M1191.52 471.4V475.9M1193.20 475.9V479.3M1194.88 479.3V485.8M1206.64 445.7V447.9M1213.36 430.4V434.0M1215.04 434.0V446.7M1216.72 446.7V469.3M1218.40 469.3V484.1M1220.08 484.1V513.1M1225.12 480.9V487.9M1226.80 487.9V496.9M1228.48 496.9V503.3M1230.16 503.3V514.9M1231.84 514.9V517.3"/></g><rect x="96.8" y="31.7" width="58" height="15" rx="3" fill="#e5e5e5" stroke="#a8a8a8"/><path d="M103 46.7Q101.3 51 100.9 57L102.2 54Q104 49.5 108.5 46.7" fill="#efefef" stroke="none"/><path d="M103.2 47.2Q101.3 51 100.9 57" fill="none" stroke="#9a9a9a" stroke-width="1"/><text x="101.8" y="42.9" font-family="Liberation Sans, sans-serif" font-size="9.6" fill="#3c3c3c" stroke="#3c3c3c" stroke-width="0.2" textLength="46.8" lengthAdjust="spacingAndGlyphs">Hi: 5837.25</text><rect x="1016.5" y="717.2" width="58.7" height="15.2" rx="3" fill="#e5e5e5" stroke="#a8a8a8"/><path d="M1020.7 709.5Q1022 714 1028 717.2L1023 717.2Z" fill="#efefef" stroke="none"/><path d="M1020.7 709.5Q1022 714 1028 716.8" fill="none" stroke="#9a9a9a" stroke-width="1"/><text x="1021.8" y="728.4" font-family="Liberation Sans, sans-serif" font-size="9.6" fill="#3c3c3c" stroke="#3c3c3c" stroke-width="0.2" textLength="48.1" lengthAdjust="spacingAndGlyphs">Lo: 5533.75</text><rect x="1242.1" y="492" width="33.6" height="10.8" rx="3" fill="#0c4b30"/><text x="1244.6" y="501.1" font-family="Liberation Sans, sans-serif" font-size="9.6" font-weight="bold" fill="#e4f4ea" textLength="27.6" lengthAdjust="spacingAndGlyphs">5631.5</text><defs><filter id="ds" x="-5%" y="-30%" width="115%" height="180%"><feGaussianBlur in="SourceAlpha" stdDeviation="1.9"/><feOffset dx="3.2" dy="3.2"/><feComponentTransfer><feFuncA type="linear" slope="0.45"/></feComponentTransfer><feMerge><feMergeNode/><feMergeNode in="SourceGraphic"/></feMerge></filter></defs><g font-family="Liberation Serif, serif" font-weight="bold" font-size="33" fill="#0a0a0a" filter="url(#ds)"><text x="791.5" y="72" textLength="86.5" lengthAdjust="spacingAndGlyphs">E<tspan font-size="29.5">mini</tspan></text><text x="889.5" y="72" textLength="61" lengthAdjust="spacingAndGlyphs">S&amp;P</text><text x="961.5" y="72" textLength="105.5" lengthAdjust="spacingAndGlyphs">F<tspan font-size="29.5">utures</tspan></text></g></svg></body></html>
